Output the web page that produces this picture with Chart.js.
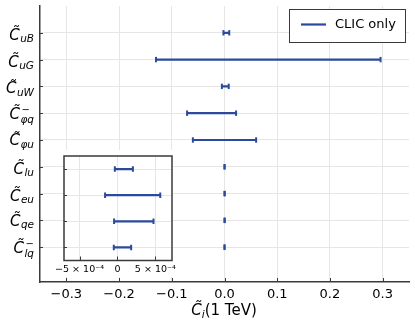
<!DOCTYPE html>
<html><head><meta charset="utf-8">
<script src="https://cdn.jsdelivr.net/npm/chart.js@4"></script>
<style>
html,body{margin:0;padding:0;background:#fff;}
#wrap{position:relative;width:415px;height:332px;overflow:hidden;}
#main{position:absolute;left:0;top:0;}
#inset{position:absolute;left:50px;top:150px;}
</style></head><body>
<div id="wrap"><canvas id="main" width="415" height="332"></canvas><canvas id="inset" width="140" height="127"></canvas></div>
<script>
// ---- data ----
const categories = ['uB','uG','uW','φq','φu','lu','eu','qe','lq'];
const superscripts = ['','','','−','','','','','−'];
const lowerBound = [-0.002,-0.130,-0.005,-0.071,-0.060,-0.000034,-0.000163,-0.000044,-0.000048];
const upperBound = [0.009,0.296,0.008,0.022,0.060,0.000204,0.000565,0.000476,0.000181];
const mainXTicks = [-0.3,-0.2,-0.1,0,0.1,0.2,0.3];
const insetCategories = ['lu','eu','qe','lq'];
const insetXTicks = [-5e-4, 0, 5e-4];
const insetXTickLabels = ['−5 × 10⁻⁴','0','5 × 10⁻⁴'];
const seriesLabel = 'CLIC only';
const xAxisTitle = ['C̃', 'i', '(1 TeV)'];

// ---- styling ----
const FONT = "'DejaVu Sans'";
const LINE = '#2b4a9c';
const GRID = '#e6e6e6';
const AXIS = '#3a3a3a';
Chart.defaults.font.family = FONT;

const rowOf = i => categories.length - i;
function segments(cats) {
  const out = [];
  cats.forEach(c => {
    const i = categories.indexOf(c);
    out.push({x: lowerBound[i], y: rowOf(i)});
    out.push({x: upperBound[i], y: rowOf(i)});
    out.push({x: lowerBound[i], y: null});
  });
  return out;
}
const fmtMain = v => (v < -1e-9 ? '−' : '') + Math.abs(v).toFixed(1);

function dataset(cats) {
  return {
    label: seriesLabel,
    data: segments(cats),
    showLine: true, spanGaps: false,
    borderColor: LINE, borderWidth: 2.2,
    pointStyle: 'line', pointRotation: 90, pointRadius: 2.7,
    pointBorderColor: LINE, pointBorderWidth: 2, pointBackgroundColor: LINE
  };
}

function drawCoef(ctx, rightX, rowY, sub, sup) {
  const desc = /[φqp]/.test(sub);
  const fBase = "italic 15px " + FONT;
  const fSub = "italic 10.5px " + FONT;
  const fSup = "10px " + FONT;
  ctx.font = fBase; const wC = ctx.measureText('C').width;
  ctx.font = fSub; const wSub = ctx.measureText(sub).width;
  ctx.font = fSup; const wSup = sup ? ctx.measureText(sup).width : 0;
  const total = wC + 0.5 + Math.max(wSub, wSup);
  let x = rightX - total;
  const base = rowY + (desc ? 5.5 : 7);
  ctx.textAlign = 'left'; ctx.textBaseline = 'alphabetic'; ctx.fillStyle = '#000';
  ctx.font = fBase; ctx.fillText('C\u0303', x, base);
  x += wC + 0.5;
  if (sup) { ctx.font = fSup; ctx.fillText(sup, x + 1, base - 6); }
  ctx.font = fSub; ctx.fillText(sub, x, base + (sup ? 4.5 : 2.5));
}

const mainDecor = {
  id: 'mainDecor',
  afterDraw(chart) {
    const {ctx, chartArea: a, scales: {x, y}} = chart;
    ctx.save();
    ctx.strokeStyle = AXIS; ctx.lineWidth = 1;
    mainXTicks.forEach(v => { const px = Math.round(x.getPixelForValue(v)) + 0.5; ctx.beginPath(); ctx.moveTo(px, a.bottom); ctx.lineTo(px, a.bottom - 4); ctx.stroke(); });
    categories.forEach((c, i) => { const py = Math.round(y.getPixelForValue(rowOf(i))) + 0.5; ctx.beginPath(); ctx.moveTo(a.left, py); ctx.lineTo(a.left + 3, py); ctx.stroke(); });
    categories.forEach((c, i) => drawCoef(ctx, 34, y.getPixelForValue(rowOf(i)), c, superscripts[i]));
    const parts = [
      {t: xAxisTitle[0], f: "italic 15px " + FONT, dy: 0, m: 'C'},
      {t: xAxisTitle[1], f: "italic 10.5px " + FONT, dy: 2.5},
      {t: xAxisTitle[2], f: "15px " + FONT, dy: 0}
    ];
    let tw = 0;
    parts.forEach(p => { ctx.font = p.f; p.w = ctx.measureText(p.m || p.t).width; tw += p.w; });
    let tx = 224 - tw / 2; const tb = 315;
    ctx.fillStyle = '#000'; ctx.textAlign = 'left'; ctx.textBaseline = 'alphabetic';
    parts.forEach(p => { ctx.font = p.f; ctx.fillText(p.t, tx, tb + p.dy); tx += p.w; });
    const lx = 289.5, ly = 9.5, lw = 116, lh = 33;
    ctx.fillStyle = '#fff'; ctx.fillRect(lx, ly, lw, lh);
    ctx.strokeStyle = AXIS; ctx.lineWidth = 1; ctx.strokeRect(lx, ly, lw, lh);
    ctx.strokeStyle = LINE; ctx.lineWidth = 2.2;
    ctx.beginPath(); ctx.moveTo(301, 24.5); ctx.lineTo(326, 24.5); ctx.stroke();
    ctx.fillStyle = '#000'; ctx.font = "13px " + FONT; ctx.textBaseline = 'middle';
    ctx.fillText(chart.data.datasets[0].label, 335, 25);
    ctx.restore();
  }
};

new Chart(document.getElementById('main'), {
  type: 'scatter',
  data: {datasets: [dataset(categories)]},
  options: {
    responsive: false, animation: false, devicePixelRatio: 1, events: [],
    layout: {padding: {top: 3, right: 3, left: 0, bottom: 0}},
    plugins: {legend: {display: false}, tooltip: {enabled: false}},
    scales: {
      x: {
        type: 'linear', min: -0.35, max: 0.35,
        afterBuildTicks: s => { s.ticks = mainXTicks.map(v => ({value: v})); },
        afterFit: s => { s.height = 50; },
        grid: {color: GRID, drawTicks: false, lineWidth: 1},
        border: {display: true, color: AXIS, width: 1.5},
        ticks: {padding: 5, color: '#000', font: {size: 13}, maxRotation: 0, autoSkip: false, callback: v => fmtMain(v)}
      },
      y: {
        type: 'linear', min: -0.3, max: 10,
        afterBuildTicks: s => { s.ticks = categories.map((c, i) => ({value: rowOf(i)})); },
        afterFit: s => { s.width = 40; },
        grid: {color: GRID, drawTicks: false, lineWidth: 1},
        border: {display: true, color: AXIS, width: 1.5},
        ticks: {display: false}
      }
    }
  },
  plugins: [mainDecor]
});

const insetDecor = {
  id: 'insetDecor',
  beforeDraw(chart) {
    const {ctx, chartArea: a} = chart;
    ctx.save(); ctx.fillStyle = '#fff';
    ctx.fillRect(a.left, 0, a.right - a.left + 1, chart.height);
    ctx.restore();
  },
  afterDraw(chart) {
    const {ctx, chartArea: a, scales: {x, y}} = chart;
    ctx.save();
    ctx.strokeStyle = AXIS; ctx.lineWidth = 1;
    insetXTicks.forEach(v => { const px = Math.round(x.getPixelForValue(v)) + 0.5; ctx.beginPath(); ctx.moveTo(px, a.bottom); ctx.lineTo(px, a.bottom - 4); ctx.stroke(); });
    insetCategories.forEach(c => { const py = Math.round(y.getPixelForValue(rowOf(categories.indexOf(c)))) + 0.5; ctx.beginPath(); ctx.moveTo(a.left, py); ctx.lineTo(a.left + 3, py); ctx.stroke(); });
    ctx.lineWidth = 1.5;
    ctx.strokeRect(a.left, a.top, a.right - a.left, a.bottom - a.top);
    ctx.restore();
  }
};

new Chart(document.getElementById('inset'), {
  type: 'scatter',
  data: {datasets: [dataset(insetCategories)]},
  options: {
    responsive: false, animation: false, devicePixelRatio: 1, events: [],
    layout: {padding: {top: 2, right: 18, left: 0, bottom: 0}},
    plugins: {legend: {display: false}, tooltip: {enabled: false}},
    scales: {
      x: {
        type: 'linear', min: -7.05e-4, max: 7.2e-4,
        afterBuildTicks: s => { s.ticks = insetXTicks.map(v => ({value: v})); },
        afterFit: s => { s.height = 16.5; },
        grid: {color: GRID, drawTicks: false, lineWidth: 1},
        border: {display: false},
        ticks: {padding: 3, color: '#000', font: {size: 9.5}, maxRotation: 0, autoSkip: false,
                callback: (v, idx) => insetXTickLabels[idx]}
      },
      y: {
        type: 'linear', min: 0.5, max: 4.5,
        afterBuildTicks: s => { s.ticks = insetCategories.map(c => ({value: rowOf(categories.indexOf(c))})); },
        afterFit: s => { s.width = 14; },
        grid: {color: GRID, drawTicks: false, lineWidth: 1},
        border: {display: false},
        ticks: {display: false}
      }
    }
  },
  plugins: [insetDecor]
});
</script>
</body></html>
